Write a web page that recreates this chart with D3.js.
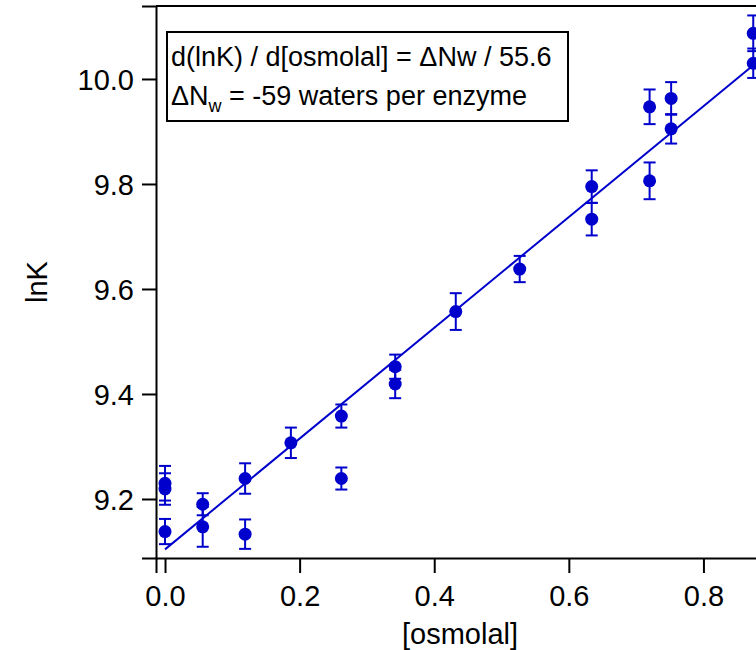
<!DOCTYPE html>
<html>
<head>
<meta charset="utf-8">
<script src="https://cdn.jsdelivr.net/npm/d3@7"></script>
<style>
  body { margin: 0; background: #fff; }
  text { font-family: "Liberation Sans", Arial, Helvetica, sans-serif; }
</style>
</head>
<body>
<div id="chart"></div>
<script>
// lnK vs osmolality, with error bars and linear fit

var osmolal = [0, 0, 0, 0.056, 0.056, 0.119, 0.119, 0.187, 0.262, 0.262, 0.342,
               0.342, 0.432, 0.527, 0.634, 0.634, 0.72, 0.72, 0.752, 0.752, 0.874, 0.874];
var lnK = [9.230, 9.219, 9.138, 9.190, 9.147, 9.239, 9.133, 9.307, 9.358, 9.239, 9.452,
           9.419, 9.557, 9.638, 9.795, 9.733, 9.947, 9.806, 9.963, 9.905, 10.087, 10.030];
var lnKErr = [0.033, 0.030, 0.024, 0.021, 0.038, 0.029, 0.028, 0.029, 0.022, 0.021, 0.023,
              0.027, 0.035, 0.025, 0.031, 0.031, 0.033, 0.035, 0.031, 0.028, 0.034, 0.028];

var fitIntercept = 9.104;
var fitSlope = 1.055;
var fitRange = [0, 0.874];

var xTicks = [0, 0.2, 0.4, 0.6, 0.8];
var yTicks = [9.2, 9.4, 9.6, 9.8, 10.0];

var width = 756, height = 650;
var blue = "#0000cc";

var xScale = d3.scaleLinear().domain([-0.0134, 1.05]).range([156, 871.7]);
var yScale = d3.scaleLinear().domain([9.0876, 10.139]).range([558, 6]);

var svg = d3.select("#chart")
    .append("svg")
    .attr("width", width)
    .attr("height", height);

var points = osmolal.map(function(x, i) {
    return { x: x, y: lnK[i], e: lnKErr[i] };
});

// top frame line
svg.append("line")
    .attr("x1", xScale.range()[0]).attr("x2", xScale.range()[1])
    .attr("y1", yScale.range()[1]).attr("y2", yScale.range()[1])
    .attr("stroke", "#000").attr("stroke-width", 2);

var xAxis = svg.append("g")
    .attr("transform", "translate(0," + yScale.range()[0] + ")")
    .call(d3.axisBottom(xScale).tickValues(xTicks).tickFormat(d3.format(".1f"))
          .tickSize(15).tickPadding(12));

var yAxis = svg.append("g")
    .attr("transform", "translate(" + xScale.range()[0] + ",0)")
    .call(d3.axisLeft(yScale).tickValues(yTicks).tickFormat(d3.format(".1f"))
          .tickSize(14).tickPadding(8));

[xAxis, yAxis].forEach(function(ax) {
    ax.select(".domain").attr("stroke", "#000").attr("stroke-width", 2);
    ax.selectAll(".tick line").attr("stroke", "#000").attr("stroke-width", 2);
    ax.selectAll(".tick text")
        .attr("fill", "#000")
        .style("font-size", "29px")
        .style("font-family", "'Liberation Sans', Arial, sans-serif");
});
yAxis.selectAll(".tick text").attr("dy", "0.36em");

// axis titles
svg.append("text")
    .attr("x", 460).attr("y", 644)
    .attr("text-anchor", "middle")
    .style("font-size", "29px")
    .text("[osmolal]");

svg.append("text")
    .attr("transform", "translate(47," + ((yScale.range()[0] + yScale.range()[1]) / 2) + ") rotate(-90)")
    .attr("text-anchor", "middle")
    .style("font-size", "29px")
    .text("lnK");

// fit line
svg.append("line")
    .attr("x1", xScale(fitRange[0]))
    .attr("y1", yScale(fitIntercept + fitSlope * fitRange[0]))
    .attr("x2", xScale(fitRange[1]))
    .attr("y2", yScale(fitIntercept + fitSlope * fitRange[1]))
    .attr("stroke", blue).attr("stroke-width", 2);

// error bars
var bars = svg.append("g")
    .attr("stroke", blue).attr("stroke-width", 2)
    .selectAll("g")
    .data(points)
    .enter()
    .append("g");

bars.append("line")
    .attr("x1", function(d) { return xScale(d.x); })
    .attr("x2", function(d) { return xScale(d.x); })
    .attr("y1", function(d) { return yScale(d.y - d.e); })
    .attr("y2", function(d) { return yScale(d.y + d.e); });

bars.append("line")
    .attr("x1", function(d) { return xScale(d.x) - 6; })
    .attr("x2", function(d) { return xScale(d.x) + 6; })
    .attr("y1", function(d) { return yScale(d.y + d.e); })
    .attr("y2", function(d) { return yScale(d.y + d.e); });

bars.append("line")
    .attr("x1", function(d) { return xScale(d.x) - 6; })
    .attr("x2", function(d) { return xScale(d.x) + 6; })
    .attr("y1", function(d) { return yScale(d.y - d.e); })
    .attr("y2", function(d) { return yScale(d.y - d.e); });

// markers
svg.append("g")
    .selectAll("circle")
    .data(points)
    .enter()
    .append("circle")
    .attr("cx", function(d) { return xScale(d.x); })
    .attr("cy", function(d) { return yScale(d.y); })
    .attr("r", 6.5)
    .attr("fill", blue);

// annotation box
var box = svg.append("g");
box.append("rect")
    .attr("x", 167).attr("y", 32)
    .attr("width", 401).attr("height", 89)
    .attr("fill", "#fff")
    .attr("stroke", "#000").attr("stroke-width", 2);

box.append("text")
    .attr("x", 171).attr("y", 66)
    .style("font-size", "27px")
    .text("d(lnK) / d[osmolal] = \u0394Nw / 55.6");

var line2 = box.append("text")
    .attr("x", 171).attr("y", 105)
    .style("font-size", "27px");
line2.append("tspan").text("\u0394N");
line2.append("tspan").attr("dy", 7).style("font-size", "18px").text("w");
line2.append("tspan").attr("dy", -7).text(" = -59 waters per enzyme");
</script>
</body>
</html>
